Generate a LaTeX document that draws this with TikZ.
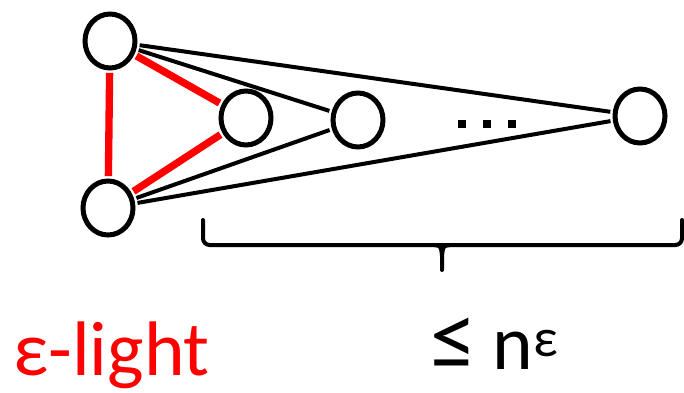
\documentclass[tikz,border=0pt]{standalone}
\usepackage{fontspec}
\setmainfont{Carlito}
\usepackage{tikz}
\usetikzlibrary{positioning,shapes.geometric}
\definecolor{lightred}{RGB}{255,0,0}

\begin{document}
\begin{tikzpicture}[x=0.75pt,y=-0.75pt,
  vert/.style={ellipse,draw=black,line width=3.75pt,fill=white,
    minimum width=37.5pt,minimum height=40.5pt,inner sep=0pt},
  redge/.style={lightred,line width=5.5pt,shorten <=1.8pt,shorten >=1.8pt},
  bedge/.style={black,line width=3pt,shorten <=1.8pt,shorten >=1.8pt},
  brace line/.style={black,line width=3pt,line cap=round},
  lbl/.style={font=\fontsize{58}{64}\selectfont,inner sep=0pt}]
\useasboundingbox (0,0) rectangle (684,392);

% vertices
\node[vert] (u) at (110,41) {};
\node[vert] (v) at (108,208) {};
\node[vert] (a) at (246,118) {};
\node[vert] (b) at (358,120) {};
\node[vert] (w) at (640,116) {};

% edges of the light triangle
\draw[redge] (u) -- (v);
\draw[redge] (u) -- (a);
\draw[redge] (v) -- (a);
% other edges
\draw[bedge] (u) -- (b);
\draw[bedge] (u) -- (w);
\draw[bedge] (v) -- (b);
\draw[bedge] (v) -- (w);

% dots
\foreach \i in {0,1,2}
  \fill (462+25*\i,124) +(-4,-4) rectangle +(4,4);

% brace under the right part
\coordinate (brl) at (203,220);
\coordinate (brr) at (682,220);
\coordinate (brtip) at (442,270);
\draw[brace line,rounded corners=5pt] (brl) -- (203,245) -- (682,245) -- (brr);
\draw[brace line] (434,245) .. controls (441,246) .. (442,256) -- (brtip);
\draw[brace line] (450,245) .. controls (443,246) .. (442,256);

% labels
\node[lbl,text=lightred,anchor=base west] (light) at (13,375) {ε-light};
\node[lbl,anchor=base west] (bound) at (430,369)
  {{\fontsize{70}{74}\selectfont ≤}\hspace{12pt}n\textsuperscript{ε}};
\end{tikzpicture}
\end{document}
